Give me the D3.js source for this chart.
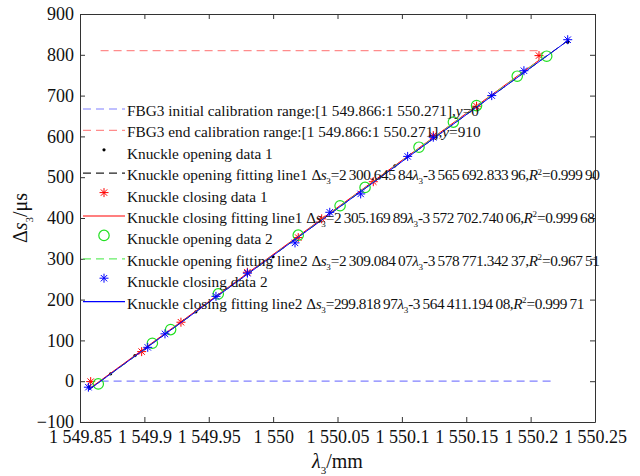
<!DOCTYPE html>
<html>
<head>
<meta charset="utf-8">
<script src="https://cdn.jsdelivr.net/npm/d3@7"></script>
<style>
  body { margin: 0; background: #fff; }
  svg { display: block; }
  svg text { font-family: "Liberation Serif", "Times New Roman", serif; }
</style>
</head>
<body>
<div id="chart"></div>
<script>
// axis ticks
const xTicks = [1549.85, 1549.9, 1549.95, 1550, 1550.05, 1550.1, 1550.15, 1550.2, 1550.25];
const xTickLabels = ["1 549.85", "1 549.9", "1 549.95", "1 550", "1 550.05", "1 550.1", "1 550.15", "1 550.2", "1 550.25"];
const yTicks = [-100, 0, 100, 200, 300, 400, 500, 600, 700, 800, 900];

// calibration ranges (lambda start, lambda end, strain)
const initRange = [1549.866, 1550.217, 0];
const endRange  = [1549.866, 1550.209, 810];

// knuckle opening data 1 (black dots)
const open1Lambda = [1549.857, 1549.8738, 1549.8927, 1549.940, 1550.000, 1550.0946, 1550.2288];
const open1Strain = [-14, 18, 62.7, 170, 305, 528, 831];

// knuckle closing data 1 (red stars)
const close1Lambda = [1549.8583, 1549.8979, 1549.9284, 1549.980, 1550.0195, 1550.0377, 1550.0778, 1550.1244, 1550.158, 1550.2065];
const close1Strain = [-1, 72.5, 144.6, 267, 352, 398, 489, 602, 674, 798];

// knuckle opening data 2 (green circles)
const open2Lambda = [1549.8642, 1549.9062, 1549.9204, 1549.9574, 1550.0195, 1550.052, 1550.0714, 1550.1133, 1550.140, 1550.158, 1550.1896, 1550.2125];
const open2Strain = [-6.6, 93, 126.5, 214, 358, 430, 475, 573.5, 635, 675.5, 747.5, 796.6];

// knuckle closing data 2 (blue stars)
const close2Lambda = [1549.8565, 1549.9026, 1549.916, 1549.9556, 1549.980, 1550.017, 1550.044, 1550.068, 1550.1045, 1550.1244, 1550.1698, 1550.1948, 1550.2288];
const close2Strain = [-14.7, 83, 116, 208, 264.7, 339, 414, 459, 551, 598, 700, 761, 837];

// fitting lines: strain = slope * lambda + intercept
const fitSlope     = [2300.64584, 2305.16989, 2309.08407, 2299.81897];
const fitIntercept = [-3565692.83396, -3572702.74006, -3578771.34237, -3564411.19408];

// legend labels: name part, equation part (*italic*, _sub, ^sup, ~ thin space)
const legendNames = [
  "FBG3 initial calibration range:[1 549.866:1 550.271],*y*=0",
  "FBG3 end calibration range:[1 549.866:1 550.271],*y*=910",
  "Knuckle opening data 1",
  "Knuckle opening fitting line1 ",
  "Knuckle closing data 1",
  "Knuckle closing fitting line1 ",
  "Knuckle opening data 2",
  "Knuckle opening fitting line2 ",
  "Knuckle closing data 2",
  "Knuckle closing fitting line2 "
];
const legendEquations = [
  "", "", "",
  "Δ*s*_3=2~300.645~84*λ*_3-3~565~692.833~96,*R*^2=0.999~90",
  "",
  "Δ*s*_3=2~305.169~89*λ*_3-3~572~702.740~06,*R*^2=0.999~68",
  "",
  "Δ*s*_3=2~309.084~07*λ*_3-3~578~771.342~37,*R*^2=0.967~51",
  "",
  "Δ*s*_3=299.818~97*λ*_3-3~564~411.194~08,*R*^2=0.999~71"
];

// size setup
const width = 640, height = 476;
const plot = {left: 80, right: 595, top: 14, bottom: 422};

const svg = d3.select("#chart").append("svg")
  .attr("width", width)
  .attr("height", height);

const xScale = d3.scaleLinear().domain([1549.85, 1550.25]).range([plot.left, plot.right]);
const yScale = d3.scaleLinear().domain([-100, 900]).range([plot.bottom, plot.top]);

// rich text helper
function richText(sel, str, size, spacing) {
  let italic = false;
  let shift = 0;
  let buf = "";
  const sub = Math.round(size * 0.56);
  function flush() {
    if (!buf) return;
    const t = sel.append("tspan").text(buf);
    if (italic) t.style("font-style", "italic");
    if (spacing) t.style("letter-spacing", spacing + "px");
    if (shift !== 0) { t.attr("dy", -shift); shift = 0; }
    buf = "";
  }
  let i = 0;
  while (i < str.length) {
    const c = str[i];
    if (c === "*") { flush(); italic = !italic; i++; continue; }
    if (c === "~") { buf += "\u2009"; i++; continue; }
    if (c === "_" || c === "^") {
      flush();
      const d = c === "_" ? size * 0.28 : -size * 0.36;
      sel.append("tspan").text(str[i + 1])
        .attr("dy", d - shift)
        .style("font-size", sub + "px");
      shift = d;
      i += 2;
      continue;
    }
    buf += c;
    i++;
  }
  flush();
  if (shift !== 0) sel.append("tspan").attr("dy", -shift).text("");
}

// markers
const starPath = "M-4.5,0H4.5M0,-4.5V4.5M-3.2,-3.2L3.2,3.2M-3.2,3.2L3.2,-3.2";
function drawStar(g, x, y, color) {
  g.append("path").attr("d", starPath)
    .attr("transform", `translate(${x},${y})`)
    .attr("fill", "none").attr("stroke", color).attr("stroke-width", 1);
}
function drawCircle(g, x, y, color) {
  g.append("circle").attr("cx", x).attr("cy", y).attr("r", 5.2)
    .attr("fill", "none").attr("stroke", color).attr("stroke-width", 1.2);
}
function drawDot(g, x, y, color) {
  g.append("circle").attr("cx", x).attr("cy", y).attr("r", 1.6).attr("fill", color);
}

// plot frame and axes
const xAxisBottom = d3.axisBottom(xScale).tickValues(xTicks)
  .tickFormat((d, i) => xTickLabels[i]).tickSizeInner(-5).tickSizeOuter(0).tickPadding(8);
const xAxisTop = d3.axisTop(xScale).tickValues(xTicks).tickFormat("").tickSizeInner(-5).tickSizeOuter(0);
const yAxisLeft = d3.axisLeft(yScale).tickValues(yTicks).tickFormat(d3.format("d"))
  .tickSizeInner(-5).tickSizeOuter(0).tickPadding(6);
const yAxisRight = d3.axisRight(yScale).tickValues(yTicks).tickFormat("").tickSizeInner(-5).tickSizeOuter(0);

svg.append("rect")
  .attr("x", plot.left).attr("y", plot.top)
  .attr("width", plot.right - plot.left).attr("height", plot.bottom - plot.top)
  .attr("fill", "#fff");

const gx = svg.append("g").attr("transform", `translate(0,${plot.bottom})`).call(xAxisBottom);
const gxt = svg.append("g").attr("transform", `translate(0,${plot.top})`).call(xAxisTop);
const gy = svg.append("g").attr("transform", `translate(${plot.left},0)`).call(yAxisLeft);
const gyr = svg.append("g").attr("transform", `translate(${plot.right},0)`).call(yAxisRight);

[gx, gxt, gy, gyr].forEach(g => g.attr("font-family", "Liberation Serif").attr("font-size", 18));
svg.selectAll(".domain").attr("stroke", "#333");
svg.selectAll(".tick line").attr("stroke", "#333");
svg.selectAll(".tick text").attr("fill", "#111");

// axis titles
const xTitle = svg.append("text")
  .attr("x", (plot.left + plot.right) / 2).attr("y", 468)
  .attr("text-anchor", "middle").style("font-size", "20px").attr("fill", "#111");
richText(xTitle, "*λ*_3/mm", 20);

const yTitle = svg.append("text")
  .attr("transform", `translate(27,${(plot.top + plot.bottom) / 2}) rotate(-90)`)
  .attr("text-anchor", "middle").style("font-size", "20px").attr("fill", "#111");
richText(yTitle, "Δ*s*_3/μs", 20);

// chart group
const cht = svg.append("g");

// calibration lines
[[initRange, "#8080ff"], [endRange, "#ff8c8c"]].forEach(([r, color]) => {
  cht.append("line")
    .attr("x1", xScale(r[0])).attr("x2", xScale(r[1]))
    .attr("y1", yScale(r[2])).attr("y2", yScale(r[2]))
    .attr("stroke", color).attr("stroke-width", 1.2).attr("stroke-dasharray", "8,5");
});

const series = [
  {lam: open1Lambda,  str: open1Strain,  color: "#000",    marker: drawDot,    fit: 0, dash: "8,5", lineColor: "#222"},
  {lam: close1Lambda, str: close1Strain, color: "#ff0000", marker: drawStar,   fit: 1, dash: null,  lineColor: "#ff0000"},
  {lam: open2Lambda,  str: open2Strain,  color: "#22e022", marker: drawCircle, fit: 2, dash: "8,5", lineColor: "#66ee66"},
  {lam: close2Lambda, str: close2Strain, color: "#0000ff", marker: drawStar,   fit: 3, dash: null,  lineColor: "#0000ff"}
];

const line = d3.line().x(d => xScale(d[0])).y(d => yScale(d[1]));

series.forEach(s => {
  s.lam.forEach((l, i) => s.marker(cht, xScale(l), yScale(s.str[i]), s.color));
  const lo = d3.min(s.lam), hi = d3.max(s.lam);
  const pts = [lo, hi].map(l => [l, fitSlope[s.fit] * l + fitIntercept[s.fit]]);
  const p = cht.append("path").attr("d", line(pts))
    .attr("fill", "none").attr("stroke", s.lineColor).attr("stroke-width", 1);
  if (s.dash) p.attr("stroke-dasharray", s.dash);
});

// legend
const leg = svg.append("g");
const legY0 = 111, legStep = 21.4, legFont = 15.3;
const legStyles = [
  {type: "line", color: "#8080ff", dash: "8,5"},
  {type: "line", color: "#ff8c8c", dash: "8,5"},
  {type: "mark", color: "#000", marker: drawDot},
  {type: "line", color: "#222", dash: "8,5"},
  {type: "mark", color: "#ff0000", marker: drawStar},
  {type: "line", color: "#ff0000", dash: null},
  {type: "mark", color: "#22e022", marker: drawCircle},
  {type: "line", color: "#66ee66", dash: "8,5"},
  {type: "mark", color: "#0000ff", marker: drawStar},
  {type: "line", color: "#0000ff", dash: null}
];

legendNames.forEach((name, i) => {
  const y = legY0 + i * legStep;
  const st = legStyles[i];
  if (st.type === "line") {
    const l = leg.append("line").attr("x1", 83).attr("x2", 125)
      .attr("y1", y - 2).attr("y2", y - 2)
      .attr("stroke", st.color).attr("stroke-width", 1.2);
    if (st.dash) l.attr("stroke-dasharray", st.dash);
  } else {
    st.marker(leg, 104, y - 4, st.color);
  }
  const t = leg.append("text").attr("x", 127).attr("y", y + 5)
    .style("font-size", legFont + "px").attr("fill", "#111");
  richText(t, name, legFont);
  if (legendEquations[i]) richText(t, legendEquations[i], legFont, -0.45);
});
</script>
</body>
</html>
